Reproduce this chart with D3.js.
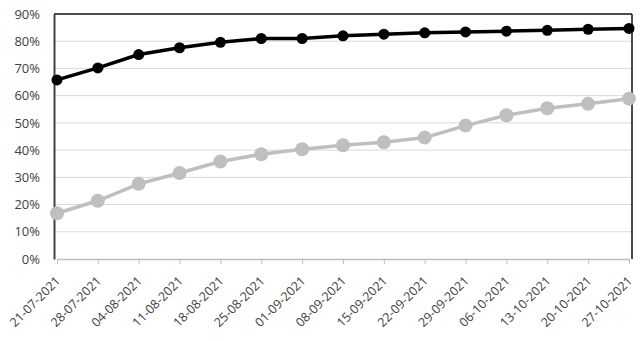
<!DOCTYPE html>
<html>
<head>
<meta charset="utf-8">
<script src="https://cdn.jsdelivr.net/npm/d3@7"></script>
<style>
  body { margin: 0; background: #fff; }
  text { font-family: "Open Sans", "Liberation Sans", sans-serif; fill: #404040; }
</style>
</head>
<body>
<div id="chart"></div>
<script>
// data
var dates = ["21-07-2021", "28-07-2021", "04-08-2021", "11-08-2021", "18-08-2021",
  "25-08-2021", "01-09-2021", "08-09-2021", "15-09-2021", "22-09-2021",
  "29-09-2021", "06-10-2021", "13-10-2021", "20-10-2021", "27-10-2021"];
var blackSeries = [65.8, 70.2, 75.1, 77.6, 79.6, 81.0, 81.0, 82.0, 82.6, 83.1,
  83.4, 83.7, 84.0, 84.4, 84.7];
var greySeries = [16.8, 21.4, 27.6, 31.6, 35.8, 38.5, 40.3, 41.8, 42.9, 44.6,
  49.0, 52.8, 55.4, 57.0, 58.9];
var yTicks = [0, 10, 20, 30, 40, 50, 60, 70, 80, 90];

var width = 642, height = 341;
var margin = { left: 54, right: 10, top: 14, bottom: 82 },
  iw = width - margin.left - margin.right,
  ih = height - margin.top - margin.bottom;

var svg = d3.select("#chart").append("svg")
  .attr("width", width)
  .attr("height", height);

var g = svg.append("g")
  .attr("transform", "translate(" + margin.left + "," + margin.top + ")");

var x = d3.scalePoint().domain(dates).range([3, iw - 3]);
var y = d3.scaleLinear().domain([0, 90]).range([ih, 0]);

// gridlines
g.selectAll(".grid").data(yTicks.slice(1, -1)).enter().append("line")
  .attr("class", "grid")
  .attr("x1", 0).attr("x2", iw)
  .attr("y1", function(d) { return y(d); })
  .attr("y2", function(d) { return y(d); })
  .attr("stroke", "#d9d9d9")
  .attr("stroke-width", 1);

// frame: top and right black
g.append("line").attr("x1", 0).attr("x2", iw).attr("y1", 0).attr("y2", 0)
  .attr("stroke", "#111").attr("stroke-width", 1.5);
g.append("line").attr("x1", iw).attr("x2", iw).attr("y1", 0).attr("y2", ih)
  .attr("stroke", "#111").attr("stroke-width", 1.5);

// x axis
var xAxis = g.append("g")
  .attr("transform", "translate(0," + ih + ")")
  .call(d3.axisBottom(x).tickSize(5).tickSizeOuter(0));
xAxis.select(".domain").attr("stroke", "#bfbfbf").attr("stroke-width", 1.5);
xAxis.selectAll(".tick line").attr("stroke", "#bfbfbf");
xAxis.selectAll(".tick text")
  .attr("font-size", "12.5px")
  .attr("text-anchor", "end")
  .attr("dx", 0).attr("dy", 0)
  .attr("transform", "translate(-2,17) rotate(-45)");

// y axis
var yAxis = g.append("g")
  .call(d3.axisLeft(y).tickValues(yTicks).tickSize(0).tickPadding(14)
    .tickFormat(function(d) { return d + "%"; }));
yAxis.select(".domain").attr("stroke", "#404040").attr("stroke-width", 2);
yAxis.selectAll(".tick text").attr("font-size", "13px");

var line = d3.line()
  .x(function(d, i) { return x(dates[i]); })
  .y(function(d) { return y(d); });

// grey series
g.append("path").datum(greySeries)
  .attr("d", line)
  .attr("fill", "none")
  .attr("stroke", "#bfbfbf")
  .attr("stroke-width", 3.5);
g.selectAll(".gdot").data(greySeries).enter().append("circle")
  .attr("class", "gdot")
  .attr("cx", function(d, i) { return x(dates[i]); })
  .attr("cy", function(d) { return y(d); })
  .attr("r", 7)
  .attr("fill", "#bfbfbf");

// black series
g.append("path").datum(blackSeries)
  .attr("d", line)
  .attr("fill", "none")
  .attr("stroke", "#000")
  .attr("stroke-width", 3.5);
g.selectAll(".bdot").data(blackSeries).enter().append("circle")
  .attr("class", "bdot")
  .attr("cx", function(d, i) { return x(dates[i]); })
  .attr("cy", function(d) { return y(d); })
  .attr("r", 5.5)
  .attr("fill", "#000");
</script>
</body>
</html>
